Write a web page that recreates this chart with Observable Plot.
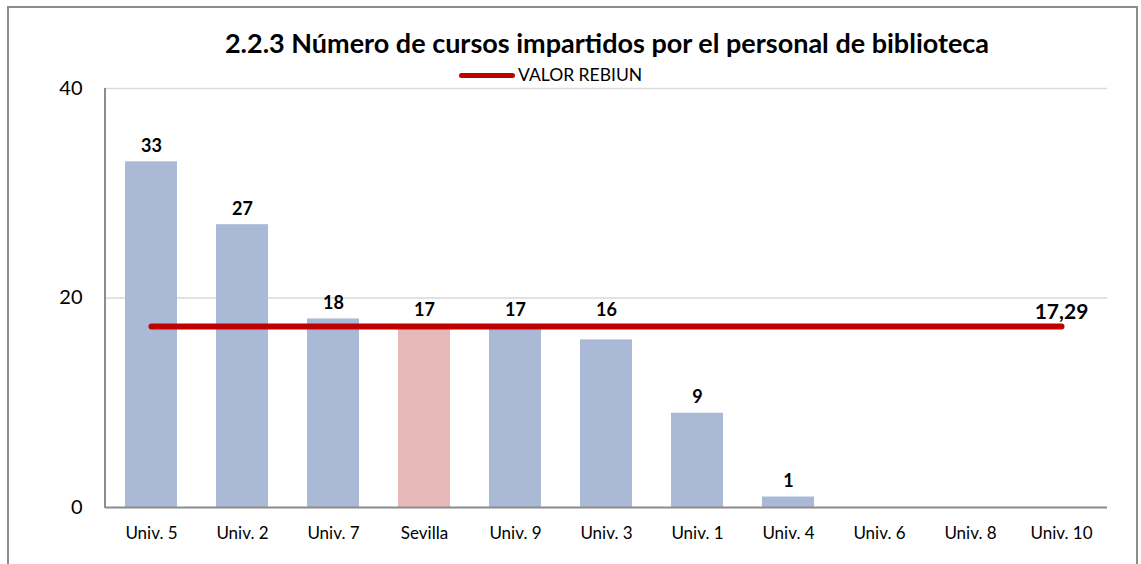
<!DOCTYPE html>
<html>
<head>
<meta charset="utf-8">
<script src="https://cdn.jsdelivr.net/npm/d3@7"></script>
<script src="https://cdn.jsdelivr.net/npm/@observablehq/plot@0.6"></script>
<style>
  html, body { margin: 0; padding: 0; background: #fff; overflow: hidden; }
  #wrap { position: relative; width: 1141px; height: 564px; font-family: Lato, "Open Sans", sans-serif; }
  #frame { position: absolute; left: 7px; top: 6px; width: 1131px; height: 600px; border: 2px solid #8c8c8c; box-sizing: border-box; }
  #title { position: absolute; left: 0; width: 1214px; top: 27px; text-align: center; font-weight: bold; font-size: 27px; line-height: 32px; color: #000; }
  #legend { position: absolute; left: 459px; top: 64px; font-size: 17.5px; line-height: 22px; color: #000; display: flex; align-items: center; }
  #legend .sw { width: 56px; height: 5px; background: #c00000; border-radius: 3px; margin-right: 3px; }
  #chart { position: absolute; left: 0; top: 0; }
</style>
</head>
<body>
<div id="wrap">
  <div id="chart"></div>
  <div id="frame"></div>
  <div id="title">2.2.3 Número de cursos impartidos por el personal de biblioteca</div>
  <div id="legend"><span class="sw"></span><span>VALOR REBIUN</span></div>
</div>
<script>
const categories = ["Univ. 5", "Univ. 2", "Univ. 7", "Sevilla", "Univ. 9", "Univ. 3", "Univ. 1", "Univ. 4", "Univ. 6", "Univ. 8", "Univ. 10"];
const values = [33, 27, 18, 17, 17, 16, 9, 1, 0, 0, 0];
const rebiun = 17.29;
const rebiunLabel = "17,29";
const yTicks = [0, 20, 40];
const highlight = "Sevilla";

const data = categories.map((c, i) => ({cat: c, value: values[i]}));
// labels of bars just under the reference line are lifted above it
const labels = data.filter(d => d.value > 0).map(d => ({
  cat: d.cat,
  value: d.value,
  ly: (d.value < rebiun && d.value > rebiun - 3) ? rebiun : d.value
}));
const lineData = [categories[0], categories[categories.length - 1]].map(c => ({cat: c, value: rebiun}));

const chart = Plot.plot({
  width: 1141,
  height: 564,
  marginLeft: 105,
  marginRight: 34,
  marginTop: 88,
  marginBottom: 57,
  style: {fontFamily: "Lato, 'Open Sans', sans-serif", background: "transparent"},
  x: {domain: categories, paddingInner: 0.43, paddingOuter: 0.215, label: null},
  y: {domain: [0, 40], label: null},
  marks: [
    Plot.ruleY(yTicks.filter(d => d > 0), {stroke: "#d9d9d9", strokeWidth: 1.5}),
    Plot.barY(data, {x: "cat", y: "value", fill: d => d.cat === highlight ? "#e6b8b7" : "#aab9d6"}),
    Plot.ruleY([0], {stroke: "#8c8c8c", strokeWidth: 2}),
    Plot.axisY({ticks: yTicks, tickSize: 0, tickPadding: 23, fontSize: 20, fill: "#000", label: null}),
    Plot.axisX({tickSize: 0, tickPadding: 19, fontSize: 17, fill: "#000", label: null}),
    Plot.line(lineData, {x: "cat", y: "value", stroke: "#c00000", strokeWidth: 6, strokeLinecap: "round"}),
    Plot.text(labels, {x: "cat", y: "ly", text: d => String(d.value), lineAnchor: "bottom", dy: -10, fontSize: 18, fontWeight: "bold", fill: "#000"}),
    Plot.text([lineData[1]], {x: "cat", y: "value", text: () => rebiunLabel, lineAnchor: "bottom", dy: -7, fontSize: 21, fontWeight: "bold", fill: "#000"})
  ]
});
const svg = d3.select(chart);
svg.append("line").attr("x1", 105).attr("x2", 105).attr("y1", 88).attr("y2", 508).attr("stroke", "#8c8c8c").attr("stroke-width", 2);
document.getElementById("chart").appendChild(chart);
</script>
</body>
</html>
